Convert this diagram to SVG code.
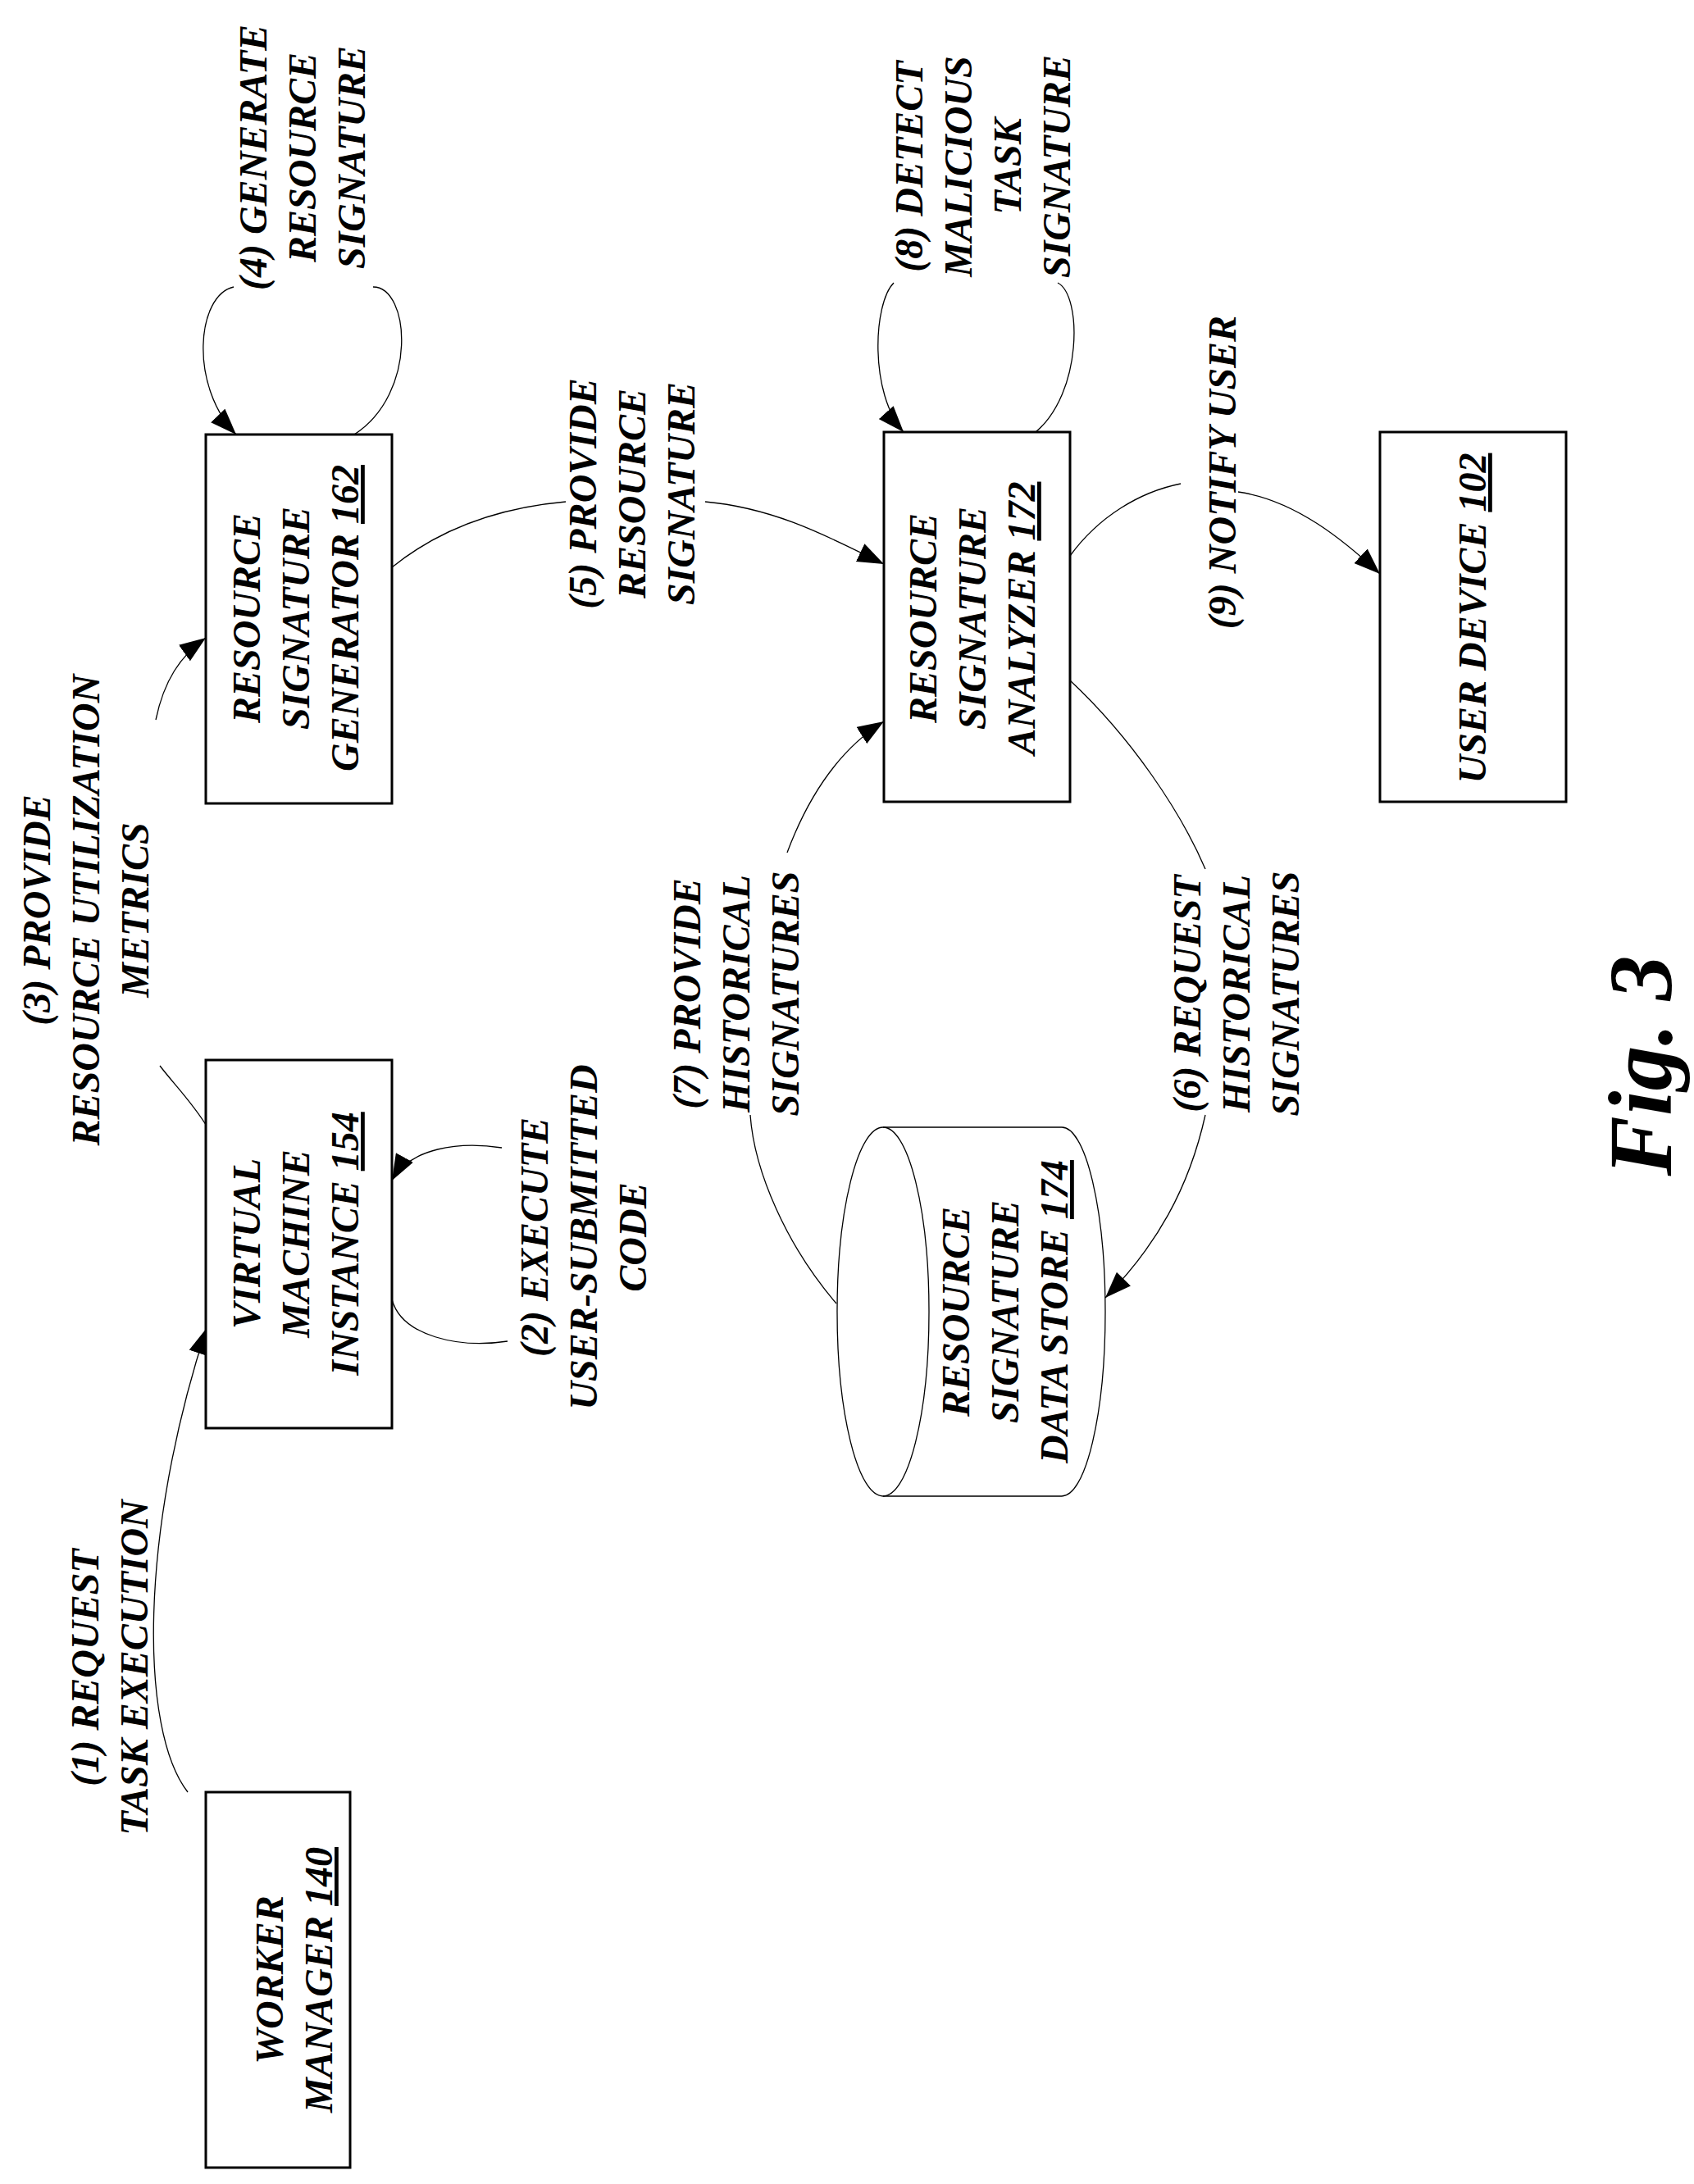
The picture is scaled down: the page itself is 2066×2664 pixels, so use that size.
<svg xmlns="http://www.w3.org/2000/svg" width="2066" height="2664" viewBox="0 0 2066 2664">
<style>
.t{font-family:"Liberation Serif",serif;font-weight:bold;font-style:italic;font-size:48px;text-anchor:middle;fill:#000}
.b{fill:#fff;stroke:#000;stroke-width:3}
.c{fill:none;stroke:#000;stroke-width:1.3}
.u{text-decoration:underline}
</style>
<defs>
<marker id="a" markerUnits="userSpaceOnUse" markerWidth="34" markerHeight="24" refX="32" refY="12" orient="auto"><path d="M0,0 L32,12 L0,24 z" fill="#000"/></marker>
</defs>
<rect width="2066" height="2664" fill="#fff"/>
<g id="connectors">
<path class="c" d="M229,2186 C170,2110 170,1870 252,1620" marker-end="url(#a)"/>
<path class="c" d="M612,1400 C560,1392 500,1400 478,1440" marker-end="url(#a)"/>
<path class="c" d="M478,1585 C490,1630 560,1645 619,1636"/>
<path class="c" d="M253,1375 C235,1345 210,1320 195,1300"/>
<path class="c" d="M190,878 C200,830 220,800 251,778" marker-end="url(#a)"/>
<path class="c" d="M432,530 C510,480 500,350 455,350"/>
<path class="c" d="M285,350 C240,360 230,470 288,530" marker-end="url(#a)"/>
<path class="c" d="M478,692 C530,650 600,620 690,612"/>
<path class="c" d="M860,612 C950,620 1020,660 1078,688" marker-end="url(#a)"/>
<path class="c" d="M1305,830 C1380,900 1440,990 1470,1060"/>
<path class="c" d="M1470,1360 C1450,1450 1410,1520 1348,1583" marker-end="url(#a)"/>
<path class="c" d="M1020,1590 C960,1520 920,1430 915,1360"/>
<path class="c" d="M960,1040 C990,960 1030,910 1078,880" marker-end="url(#a)"/>
<path class="c" d="M1263,527 C1320,480 1320,360 1290,345"/>
<path class="c" d="M1090,345 C1065,370 1060,480 1102,527" marker-end="url(#a)"/>
<path class="c" d="M1305,678 C1340,630 1390,600 1440,590"/>
<path class="c" d="M1510,600 C1580,610 1640,660 1683,700" marker-end="url(#a)"/>
</g>
<g id="worker">
<rect class="b" x="251" y="2186" width="176" height="458"/>
<text class="t" transform="translate(330,2415) rotate(-90)"><tspan x="0" y="15">WORKER</tspan><tspan x="0" y="75">MANAGER <tspan class="u">140</tspan></tspan></text>
</g>
<g id="vm">
<rect class="b" x="251" y="1293" width="227" height="449"/>
<text class="t" transform="translate(302,1517) rotate(-90)"><tspan x="0" y="15">VIRTUAL</tspan><tspan x="0" y="75">MACHINE</tspan><tspan x="0" y="135">INSTANCE <tspan class="u">154</tspan></tspan></text>
</g>
<g id="rsg">
<rect class="b" x="251" y="530" width="227" height="450"/>
<text class="t" transform="translate(302,754) rotate(-90)"><tspan x="0" y="15">RESOURCE</tspan><tspan x="0" y="75">SIGNATURE</tspan><tspan x="0" y="135">GENERATOR <tspan class="u">162</tspan></tspan></text>
</g>
<g id="rsa">
<rect class="b" x="1078" y="527" width="227" height="451"/>
<text class="t" transform="translate(1127,754) rotate(-90)"><tspan x="0" y="15">RESOURCE</tspan><tspan x="0" y="75">SIGNATURE</tspan><tspan x="0" y="135">ANALYZER <tspan class="u">172</tspan></tspan></text>
</g>
<g id="userdevice">
<rect class="b" x="1683" y="527" width="227" height="451"/>
<text class="t" transform="translate(1797,754) rotate(-90)"><tspan x="0" y="15">USER DEVICE <tspan class="u">102</tspan></tspan></text>
</g>
<g id="datastore">
<path class="c" d="M1077,1375 L1295,1375 A53,225 0 0 1 1295,1825 L1077,1825"/>
<ellipse class="c" cx="1077" cy="1600" rx="56" ry="225"/>
<text class="t" transform="translate(1167,1600) rotate(-90)"><tspan x="0" y="15">RESOURCE</tspan><tspan x="0" y="75">SIGNATURE</tspan><tspan x="0" y="135">DATA STORE <tspan class="u">174</tspan></tspan></text>
</g>
<g id="labels">
<text class="t" transform="translate(105,2034) rotate(-90)"><tspan x="0" y="15">(1) REQUEST</tspan><tspan x="0" y="75">TASK EXECUTION</tspan></text>
<text class="t" transform="translate(653,1509) rotate(-90)"><tspan x="0" y="15">(2) EXECUTE</tspan><tspan x="0" y="75">USER-SUBMITTED</tspan><tspan x="0" y="135">CODE</tspan></text>
<text class="t" transform="translate(46,1110) rotate(-90)"><tspan x="0" y="15">(3) PROVIDE</tspan><tspan x="0" y="75">RESOURCE UTILIZATION</tspan><tspan x="0" y="135">METRICS</tspan></text>
<text class="t" transform="translate(310,192) rotate(-90)"><tspan x="0" y="15">(4) GENERATE</tspan><tspan x="0" y="75">RESOURCE</tspan><tspan x="0" y="135">SIGNATURE</tspan></text>
<text class="t" transform="translate(712,602) rotate(-90)"><tspan x="0" y="15">(5) PROVIDE</tspan><tspan x="0" y="75">RESOURCE</tspan><tspan x="0" y="135">SIGNATURE</tspan></text>
<text class="t" transform="translate(1449,1212) rotate(-90)"><tspan x="0" y="15">(6) REQUEST</tspan><tspan x="0" y="75">HISTORICAL</tspan><tspan x="0" y="135">SIGNATURES</tspan></text>
<text class="t" transform="translate(839,1212) rotate(-90)"><tspan x="0" y="15">(7) PROVIDE</tspan><tspan x="0" y="75">HISTORICAL</tspan><tspan x="0" y="135">SIGNATURES</tspan></text>
<text class="t" transform="translate(1110,203) rotate(-90)"><tspan x="0" y="15">(8) DETECT</tspan><tspan x="0" y="75">MALICIOUS</tspan><tspan x="0" y="135">TASK</tspan><tspan x="0" y="195">SIGNATURE</tspan></text>
<text class="t" transform="translate(1492,576) rotate(-90)"><tspan x="0" y="15">(9) NOTIFY USER</tspan></text>
<text class="t" style="font-size:110px" transform="translate(2000,1300) rotate(-90)"><tspan x="0" y="38">Fig. 3</tspan></text>
</g>
</svg>
